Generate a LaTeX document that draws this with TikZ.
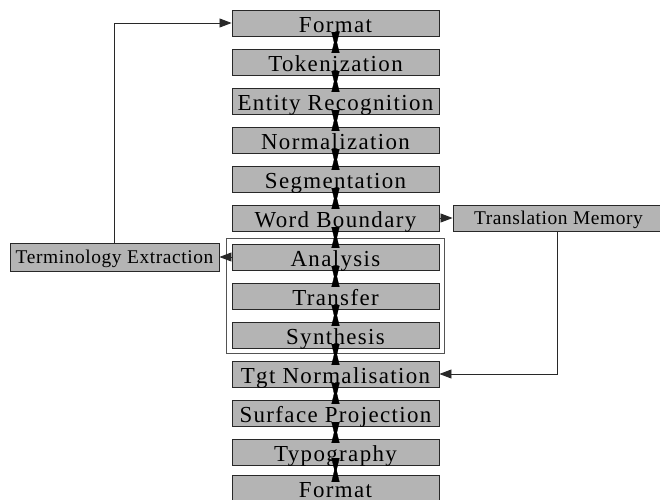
\documentclass[tikz,border=0pt]{standalone}
\usepackage{fontspec}
\setmainfont{Liberation Serif}
\newfontfamily\mainf[LetterSpace=6]{Liberation Serif}
\newfontfamily\sidef[LetterSpace=3]{Liberation Serif}
\usetikzlibrary{arrows.meta,fit}
\definecolor{boxfill}{RGB}{180,180,180}
\definecolor{boxline}{RGB}{40,40,40}
\tikzset{
  stagebox/.style={draw=boxline, fill=boxfill, line width=0.9bp, inner sep=0pt,
    minimum width=207bp, minimum height=26bp, text height=22.3bp, text depth=3.7bp,
    font=\mainf\fontsize{23}{25}\selectfont},
  sidebox/.style={draw=boxline, fill=boxfill, line width=0.9bp, inner sep=0pt,
    font=\sidef\fontsize{19.5}{22}\selectfont},
  hg/.style={draw=black, line width=0.3bp, shorten <=-3.5bp,
    -{Triangle[length=16.5bp,width=8bp]}},
  flow/.style={draw=boxline, line width=0.8bp, -{Triangle[length=12bp,width=9bp]}},
  groupbox/.style={draw=boxline!80, line width=0.8bp, inner sep=5bp}
}
\begin{document}
\begin{tikzpicture}[x=1bp,y=-1bp]
\useasboundingbox (0,0) rectangle (660,500);
% main column
\node[stagebox] (f1) at (335.5,23) {Format};
\node[stagebox] (tk) at (335.5,62) {Tokenization};
\node[stagebox] (er) at (335.5,101) {Entity Recognition};
\node[stagebox] (nm) at (335.5,140) {Normalization};
\node[stagebox] (sg) at (335.5,179) {Segmentation};
\node[stagebox] (wb) at (335.5,218) {Word Boundary};
\node[stagebox] (an) at (335.5,257) {Analysis};
\node[stagebox] (tr) at (335.5,296) {Transfer};
\node[stagebox] (sy) at (335.5,335) {Synthesis};
\node[stagebox] (tg) at (335.5,374) {Tgt Normalisation};
\node[stagebox] (sp) at (335.5,413) {Surface Projection};
\node[stagebox] (ty) at (335.5,452) {Typography};
\node[stagebox] (f2) at (335.5,488) {Format};
% group
\node[groupbox, fit=(an)(sy)] (grp) {};
% side boxes
\node[sidebox, minimum width=209bp, minimum height=28bp, text height=20.5bp, text depth=7.5bp] (te) at (114.5,257) {Terminology Extraction};
\node[sidebox, minimum width=211bp, minimum height=26bp, text height=19.5bp, text depth=6.5bp] (tm) at (558.5,218) {Translation Memory};
% hourglass connectors (a pair of opposed heads between neighbours)
\foreach \a/\b in {f1/tk, tk/er, er/nm, nm/sg, sg/wb, wb/an, an/tr, tr/sy, sy/tg, tg/sp, sp/ty, ty/f2} {
  \draw[hg] (\a.south) -- (\b.north);
  \draw[hg] (\b.north) -- (\a.south);
}
% side connectors
\draw[flow] (wb.east) -- (tm.west);
\draw[flow] (an.west) -- (te.east);
\draw[flow] (te.north) |- (f1.west);
\draw[flow] ([xshift=-1.5bp]tm.south) |- (tg.east);
\end{tikzpicture}
\end{document}
